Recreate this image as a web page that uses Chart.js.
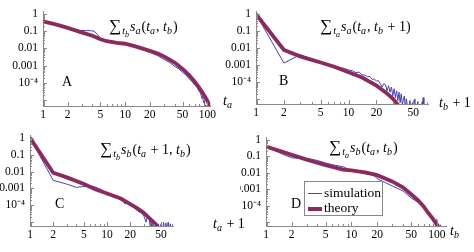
<!DOCTYPE html>
<html>
<head>
<meta charset="utf-8">
<script src="https://cdn.jsdelivr.net/npm/chart.js@4.4.1/dist/chart.umd.min.js"></script>
<style>
  body { margin: 0; width: 474px; height: 252px; background: #fff; position: relative; overflow: hidden;
         font-family: "Liberation Serif", "DejaVu Serif", serif; }
  canvas { position: absolute; }
  .lbl { position: absolute; white-space: nowrap; line-height: 1; color: #000; font-size: 14px; }
  .lbl sub { font-size: 72%; vertical-align: -0.32em; line-height: 0; margin-right: 1px; }
  .lbl sub sub { font-size: 80%; margin-right: 0; }
  .sig { font-size: 17px; margin-right: 1px; }
  .let { font-size: 14px; }
  .ax { font-size: 14px; }
  #legend { position: absolute; left: 304px; top: 181px; width: 77px; height: 33px; border: 1px solid #888; background: #fff; }
  #legend div { position: absolute; left: 3px; white-space: nowrap; font-size: 13.5px; line-height: 1; }
  #legend span.ln { display: inline-block; width: 14px; vertical-align: middle; margin-right: 2px; }
</style>
</head>
<body>
<canvas id="pA" width="218" height="126"></canvas>
<canvas id="pB" width="217" height="124"></canvas>
<canvas id="pC" width="178" height="122"></canvas>
<canvas id="pD" width="211" height="120"></canvas>

<div class="lbl" style="left:109px;top:17px"><span class="sig">∑</span><sub><i>t</i><sub><i>b</i></sub></sub><i>s</i><sub><i>a</i></sub>(<i>t</i><sub><i>a</i></sub>, <i>t</i><sub><i>b</i></sub>)</div>
<div class="lbl" style="left:320px;top:17px"><span class="sig">∑</span><sub><i>t</i><sub><i>a</i></sub></sub><i>s</i><sub><i>a</i></sub>(<i>t</i><sub><i>a</i></sub>, <i>t</i><sub><i>b</i></sub> + 1)</div>
<div class="lbl" style="left:100px;top:140px"><span class="sig">∑</span><sub><i>t</i><sub><i>b</i></sub></sub><i>s</i><sub><i>b</i></sub>(<i>t</i><sub><i>a</i></sub> + 1, <i>t</i><sub><i>b</i></sub>)</div>
<div class="lbl" style="left:329px;top:138px"><span class="sig">∑</span><sub><i>t</i><sub><i>a</i></sub></sub><i>s</i><sub><i>b</i></sub>(<i>t</i><sub><i>a</i></sub>, <i>t</i><sub><i>b</i></sub>)</div>

<div class="lbl let" style="left:62px;top:75px">A</div>
<div class="lbl let" style="left:279px;top:74px">B</div>
<div class="lbl let" style="left:55px;top:197px">C</div>
<div class="lbl let" style="left:291px;top:197px">D</div>

<div class="lbl ax" style="left:223px;top:94px"><i>t</i><sub><i>a</i></sub></div>
<div class="lbl ax" style="left:439px;top:96px"><i>t</i><sub><i>b</i></sub> + 1</div>
<div class="lbl ax" style="left:213px;top:217px"><i>t</i><sub><i>a</i></sub> + 1</div>
<div class="lbl ax" style="left:450px;top:224px"><i>t</i><sub><i>b</i></sub></div>

<div id="legend">
  <div style="top:4px"><span class="ln" style="border-top:1px solid #4444bb"></span>simulation</div>
  <div style="top:19px"><span class="ln" style="border-top:4px solid #8c2a5e"></span>theory</div>
</div>

<script>
// tick marks shared by all four panels
const xTicks = [1, 2, 5, 10, 20, 50, 100];
const yTicks = [1e-5, 1e-4, 1e-3, 1e-2, 1e-1, 1];
const yTickLabels = ["", "10\u207B\u2074", "0.001", "0.01", "0.1", "1"];

// A: sum over t_b of s_a(t_a, t_b)
const simAx = [1, 1.5, 2, 2.5, 2.8, 3.3, 3.8, 4.2, 4.6, 5, 5.5, 6, 7, 8, 10, 13, 16, 20, 25, 30, 35, 40, 45, 50, 55, 60, 65, 70, 75, 80, 83, 86, 88, 90, 92, 94, 96, 98];
const simAy = [0.38, 0.23, 0.15, 0.125, 0.11, 0.108, 0.107, 0.1, 0.063, 0.039, 0.031, 0.027, 0.024, 0.022, 0.018, 0.0125, 0.009, 0.0058, 0.0037, 0.0022, 0.0015, 9e-4, 6.5e-4, 4e-4, 2.8e-4, 1.7e-4, 1.2e-4, 7.5e-5, 5.5e-5, 3e-5, 2.5e-5, 1.2e-5, 1.6e-5, 7e-6, 9e-6, 4e-6, 5e-6, 2e-6];
const thAx = [1, 1.5, 2, 3, 4, 5, 6, 8, 10, 13, 16, 20, 25, 30, 40, 50, 60, 70, 80, 90, 100, 110];
const thAy = [0.38, 0.234, 0.155, 0.083, 0.054, 0.034, 0.026, 0.021, 0.0186, 0.0135, 0.01, 0.0072, 0.005, 0.0033, 0.00148, 6.3e-4, 2.75e-4, 1.17e-4, 5e-5, 2.1e-5, 8.9e-6, 3.5e-6];

// B: sum over t_a of s_a(t_a, t_b + 1)
const simBx = [1, 2, 3, 3.3, 4, 5, 6, 7, 8, 9, 10, 11, 12, 13, 14, 15, 16, 17, 18, 19, 20, 21, 22, 23, 24, 25, 26, 27, 28, 29, 30, 31, 32, 33, 34, 35, 36, 37, 38, 40, 41, 42, 44, 46, 47, 49, 50, 52, 53, 56, 57, 60, 61, 64, 65];
const simBy = [1, 1.3e-3, 4e-3, 3.3e-3, 2.3e-3, 1.5e-3, 1.05e-3, 8.5e-4, 7.2e-4, 6.2e-4, 5e-4, 4.6e-4, 3.5e-4, 3.8e-4, 2.6e-4, 2.5e-4, 2e-4, 2.1e-4, 1.4e-4, 1.5e-4, 1.1e-4, 1.2e-4, 8e-5, 5e-5, 8e-5, 7e-5, 3e-5, 6e-5, 2.5e-5, 5e-5, 1.5e-5, 4e-5, 1.2e-5, 3e-5, 8e-6, 2.5e-5, 6e-6, 2e-5, 5e-6, 1.5e-5, 3e-6, 1e-5, 2e-6, 8e-6, 2e-6, 6e-6, 3e-6, 1e-5, 2e-6, 7e-6, 2e-6, 5e-6, 2e-6, 1.2e-5, 2e-6];
const thBx = [1, 2, 3, 4, 5, 7, 10, 14, 20, 25, 30, 34, 37];
const thBy = [1, 7.6e-3, 3.2e-3, 2e-3, 1.4e-3, 7.9e-4, 3.7e-4, 1.8e-4, 6e-5, 2.5e-5, 1.05e-5, 4.5e-6, 2.5e-6];

// C: sum over t_b of s_b(t_a + 1, t_b)
const simCx = [1, 2, 3, 4, 5, 6, 7, 8, 9, 10, 11, 12, 13, 14, 15, 16, 17, 18, 20, 22, 25, 28, 30, 32, 33, 35, 36, 37, 38, 40, 41, 43, 44, 46, 48, 50, 52, 54, 56, 58, 60, 62, 64, 66, 68];
const simCy = [1, 3e-3, 1.8e-3, 1.15e-3, 1.3e-3, 1.45e-3, 1.2e-3, 9.5e-4, 7e-4, 4e-4, 4.5e-4, 3.6e-4, 3e-4, 2.6e-4, 2.2e-4, 1.8e-4, 1.2e-4, 1.3e-4, 1e-4, 8e-5, 4.5e-5, 3.5e-5, 2.3e-5, 1e-5, 2e-5, 1.8e-5, 6e-6, 1.5e-5, 4e-6, 1.2e-5, 3e-6, 1e-5, 3e-6, 8e-6, 2e-6, 8e-6, 2e-6, 1e-5, 2e-6, 9e-6, 2e-6, 1e-5, 2e-6, 8e-6, 2e-6];
const thCx = [1, 2, 3, 5, 7, 10, 15, 20, 25, 30, 35, 40, 45, 48];
const thCy = [1, 8.5e-3, 4.5e-3, 1.8e-3, 8.9e-4, 5e-4, 2.5e-4, 1.15e-4, 6.3e-5, 3.5e-5, 1.8e-5, 1e-5, 5.6e-6, 3.5e-6];

// D: sum over t_a of s_b(t_a, t_b)
const simDx = [1, 1.5, 2, 2.5, 3, 4, 5, 6, 8, 10, 12, 15, 18, 20, 25, 30, 40, 50, 60, 70, 80, 85, 90, 95, 100, 102, 105, 107, 110, 112, 115, 118];
const simDy = [0.39, 0.15, 0.081, 0.075, 0.074, 0.056, 0.039, 0.031, 0.023, 0.014, 0.0115, 0.0083, 0.0075, 0.0045, 0.0025, 1.6e-3, 8e-4, 3e-4, 1.6e-4, 8.7e-5, 4e-5, 2.5e-5, 2e-5, 1e-5, 1.5e-5, 5e-6, 8e-6, 3e-6, 7e-6, 2e-6, 5e-6, 2e-6];
const thDx = [1, 1.5, 2, 3, 5, 8, 10, 15, 20, 30, 40, 50, 60, 70, 80, 90, 100, 108];
const thDy = [0.39, 0.2, 0.123, 0.063, 0.029, 0.0155, 0.0138, 0.0102, 0.0072, 0.003, 1.3e-3, 5e-4, 2.2e-4, 9e-5, 3.5e-5, 1.6e-5, 7e-6, 3.5e-6];

const simColor = "#4444bb";
const thColor = "#8c2a5e";
const axisColor = "#8a8a8a";
const tickFont = { family: "Liberation Serif", size: 11.5 };

// panel placement: canvas position, y axis width, top pad, right pad, x axis height, ranges
const panels = [
  { id: "pA", left: 0, top: 0, yW: 43, padT: 5, padR: 5, xH: 20, xMax: 109, yMin: 4.4e-6, yMax: 1.33, sim: [simAx, simAy], th: [thAx, thAy] },
  { id: "pB", left: 216, top: 0, yW: 40, padT: 6, padR: 5, xH: 20, xMax: 72, yMin: 5e-6, yMax: 1.34, sim: [simBx, simBy], th: [thBx, thBy] },
  { id: "pC", left: 0, top: 124, yW: 30, padT: 5, padR: 5, xH: 20, xMax: 71.5, yMin: 5.9e-6, yMax: 1.29, sim: [simCx, simCy], th: [thCx, thCy] },
  { id: "pD", left: 240, top: 126, yW: 26, padT: 1, padR: 5, xH: 20, xMax: 128, yMin: 5.9e-6, yMax: 1.31, sim: [simDx, simDy], th: [thDx, thDy] },
];

const toPoints = (xs, ys) => xs.map((x, i) => ({ x: x, y: ys[i] }));

// Mathematica style inward ticks
const inTicks = {
  id: "inTicks",
  afterDraw(chart) {
    const { ctx, chartArea: a, scales: { x, y } } = chart;
    ctx.save();
    ctx.strokeStyle = axisColor;
    ctx.lineWidth = 1;
    ctx.beginPath();
    for (let d = 1; d <= 100; d *= 10) {
      for (let m = 1; m < 10; m++) {
        const v = d * m;
        if (v < x.min || v > x.max) continue;
        const px = Math.round(x.getPixelForValue(v)) + 0.5;
        const len = xTicks.includes(v) ? 4 : 2;
        ctx.moveTo(px, a.bottom);
        ctx.lineTo(px, a.bottom - len);
      }
    }
    for (let e = -6; e <= 0; e++) {
      for (let m = 1; m < 10; m++) {
        const v = m * Math.pow(10, e);
        if (v < y.min || v > y.max) continue;
        const py = Math.round(y.getPixelForValue(v)) + 0.5;
        const len = m === 1 ? 4 : 2;
        ctx.moveTo(a.left, py);
        ctx.lineTo(a.left + len, py);
      }
    }
    ctx.stroke();
    ctx.restore();
  },
};

panels.forEach((p) => {
  const el = document.getElementById(p.id);
  el.style.left = p.left + "px";
  el.style.top = p.top + "px";
  new Chart(el.getContext("2d"), {
    type: "line",
    data: {
      datasets: [
        { label: "theory", data: toPoints(p.th[0], p.th[1]), borderColor: thColor, borderWidth: 3.8, pointRadius: 0, tension: 0 },
        { label: "simulation", data: toPoints(p.sim[0], p.sim[1]), borderColor: simColor, borderWidth: 1, pointRadius: 0, tension: 0 },
      ],
    },
    options: {
      responsive: false,
      animation: false,
      devicePixelRatio: 1,
      layout: { padding: { top: p.padT, right: p.padR, left: 0, bottom: 0 } },
      plugins: { legend: { display: false }, tooltip: { enabled: false } },
      scales: {
        x: {
          type: "logarithmic",
          min: 1,
          max: p.xMax,
          bounds: "data",
          grid: { display: false, drawTicks: false },
          border: { display: true, color: axisColor, width: 1 },
          afterBuildTicks: (s) => { s.ticks = xTicks.filter((v) => v <= s.max).map((v) => ({ value: v })); },
          afterFit: (s) => { s.height = p.xH; },
          ticks: { autoSkip: false, maxRotation: 0, padding: 2, color: "#000", font: tickFont, callback: (v) => String(v) },
        },
        y: {
          type: "logarithmic",
          min: p.yMin,
          max: p.yMax,
          bounds: "data",
          grid: { display: false, drawTicks: false },
          border: { display: true, color: axisColor, width: 1 },
          afterBuildTicks: (s) => { s.ticks = yTicks.filter((v) => v >= s.min && v <= s.max).map((v) => ({ value: v })); },
          afterFit: (s) => { s.width = p.yW; },
          ticks: { autoSkip: false, padding: 5, color: "#000", font: tickFont, callback: (v) => yTickLabels[yTicks.indexOf(v)] },
        },
      },
    },
    plugins: [inTicks],
  });
});
</script>
</body>
</html>
